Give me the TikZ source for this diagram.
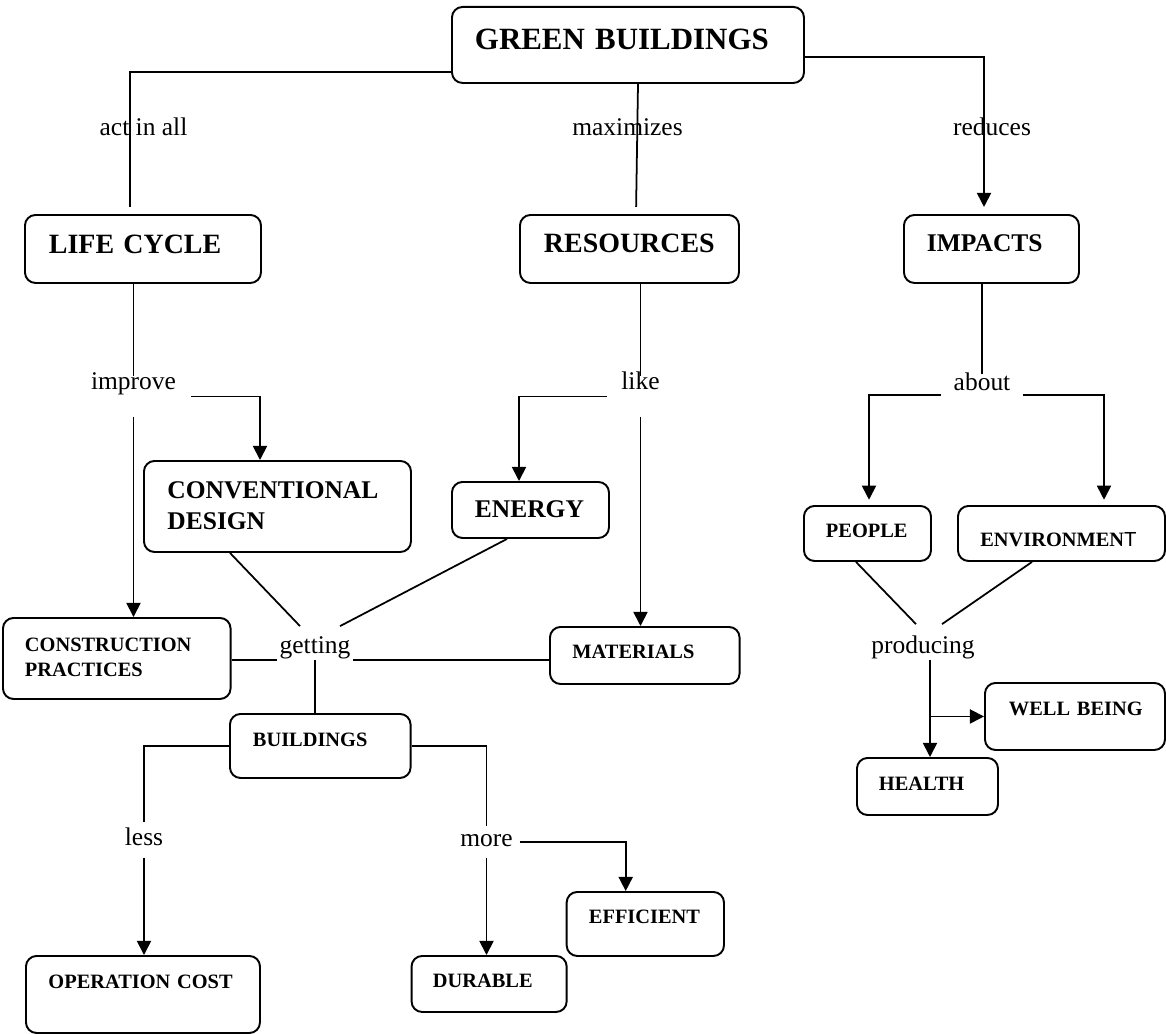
\documentclass[tikz,border=0pt]{standalone}
\usepackage{fontspec}
\setmainfont{Liberation Serif}
\newfontfamily\sansT{Liberation Sans}
\usetikzlibrary{calc,arrows.meta}

\begin{document}
\begin{tikzpicture}[x=0.02cm,y=-0.02cm,>={Triangle[length=8pt,width=8pt]},line width=1pt,
	box/.style={draw,rounded corners=6pt,line width=1.1pt,inner ysep=0pt,align=left,anchor=north west},
	lbl/.style={inner ysep=0pt,anchor=base,font=\fontsize{14.5}{17}\selectfont}]
	\useasboundingbox (0,0) rectangle (1166,1034);
	\foreach \n/\xa/\ya/\xb/\yb/\tx/\by/\fs/\txt in {gb/451/6/803/82/474/49/17.6/\mbox{GREEN BUILDINGS},
		lc/24/214/260/282/48/253/15.9/\mbox{LIFE CYCLE},
		res/519/214/738/282/543/252/15.9/RESOURCES,
		imp/903/214/1078/282/926/251/14.5/IMPACTS,
		cd/143/460/410/551/166.5/498/14.5/CONVENTIONAL\\DESIGN,
		en/451/481/608/537/474/517/14.5/ENERGY,
		cp/2/617/229.6/698/24/651/11.6/CONSTRUCTION\\PRACTICES,
		mat/549/626/738.6/683/571.5/658/11.6/MATERIALS,
		pe/803/505/930/560/825/537/11.6/PEOPLE,
		env/957/505/1164/560/979.4/546/11.6/\mbox{ENVIRONMEN{\sansT\mdseries T}},
		wb/984/682/1164/749/1008/715/11.6/\mbox{WELL BEING},
		he/856/757/997/814/878/790/11.6/HEALTH,
		bu/229/713/409.6/777/252/746/11.6/BUILDINGS,
		oc/25/955/259/1032/47.5/988/11.6/\mbox{OPERATION COST},
		du/410.6/955/565.7/1011/432/987/11.6/DURABLE,
		ef/565.7/891/723/955/588/923/11.6/EFFICIENT}{
		\pgfmathsetmacro{\padx}{(\tx-\xa)*0.02}
		\pgfmathsetmacro{\tw}{(\xb-\xa)*0.02-2*\padx}
		\pgfmathsetmacro{\hgt}{(\by-\ya)*0.02}
		\pgfmathsetmacro{\dep}{(\yb-\by)*0.02}
		\pgfmathsetmacro{\lh}{1.2*\fs}
		\node[box,inner xsep=\padx cm,text width=\tw cm,text height=\hgt cm,text depth=\dep cm,font=\bfseries\fontsize{\fs}{\lh}\selectfont] (\n) at (\xa,\ya) {\txt};
	}
	\foreach \n/\x/\y/\ya/\yb/\xs/\txt in {lact/143.5/135/118/140/0/act in all,
		lmax/627.5/135/118/140/0/maximizes,
		lred/992/135/118/140/0/reduces,
		limp/133.5/389/377/416/14.5/improve,
		llike/640.5/389/377/416/14/like,
		labout/982/390/375/415/12/about,
		lget/315/653/627/659/2/getting,
		lprod/923/653/625/659/0/producing,
		lless/144/845/823/857/0/less,
		lmore/486.5/846/827/857/6/more}{
		\pgfmathsetmacro{\hgt}{(\y-\ya)*0.02}
		\pgfmathsetmacro{\dep}{(\yb-\y)*0.02}
		\pgfmathsetmacro{\sx}{\xs*0.02}
		\node[lbl,inner xsep=\sx cm,text height=\hgt cm,text depth=\dep cm] (\n) at (\x,\y) {\txt};
	}
	\draw[shorten >=4pt] ($(gb.west)+(0,27)$) -| ($(lc.north west)+(106,0)$);
	\draw[shorten >=4pt] ($(gb.south west)+(187,0)$) -- ($(res.north west)+(117,0)$);
	\draw[->,shorten >=4pt] ($(gb.east)+(0,12)$) -| ($(imp.north west)+(81,0)$);
	\draw (lc.south -| limp) -- (limp.north);
	\draw[->] (limp.south) -- (limp.south |- cp.north);
	\draw[->] (limp.east) -| ($(cd.north west)+(117,0)$);
	\draw (res.south -| llike) -- (llike.north);
	\draw[->] (llike.west) -| ($(en.north west)+(68,0)$);
	\draw[->] (llike.south) -- (llike.south |- mat.north);
	\draw (imp.south -| labout) -- (labout.north);
	\draw[->,shorten >=3pt] (labout.west) -| ($(pe.north west)+(66,0)$);
	\draw[->,shorten >=3pt] (labout.east) -| ($(env.north west)+(147,0)$);
	\draw ($(cd.south west)+(87,0)$) -- ($(lget.north)+(-15,0)$);
	\draw ($(en.south west)+(56,0)$) -- ($(lget.north)+(25,0)$);
	\draw (cp.east |- lget.south west) -- (lget.south west);
	\draw (lget.south east) -- (lget.south east -| mat.west);
	\draw (lget.south) -- (lget.south |- bu.north);
	\draw ($(pe.south west)+(53,0)$) -- ($(lprod.north)+(-7,0)$);
	\draw ($(env.south west)+(75,0)$) -- ($(lprod.north)+(19,0)$);
	\coordinate (pdown) at ($(lprod.south)+(7,0)$);
	\draw[->] (pdown) -- (pdown |- he.north);
	\draw[->] (pdown |- wb.west) -- (wb.west);
	\draw (bu.west) -| (lless.north);
	\draw[->] (lless.south) -- (lless.south |- oc.north);
	\draw (bu.east) -| (lmore.north);
	\draw[->] (lmore.south) -- (lmore.south |- du.north);
	\draw[->] (lmore.east) -| ($(ef.north west)+(60,0)$);
\end{tikzpicture}
\end{document}
